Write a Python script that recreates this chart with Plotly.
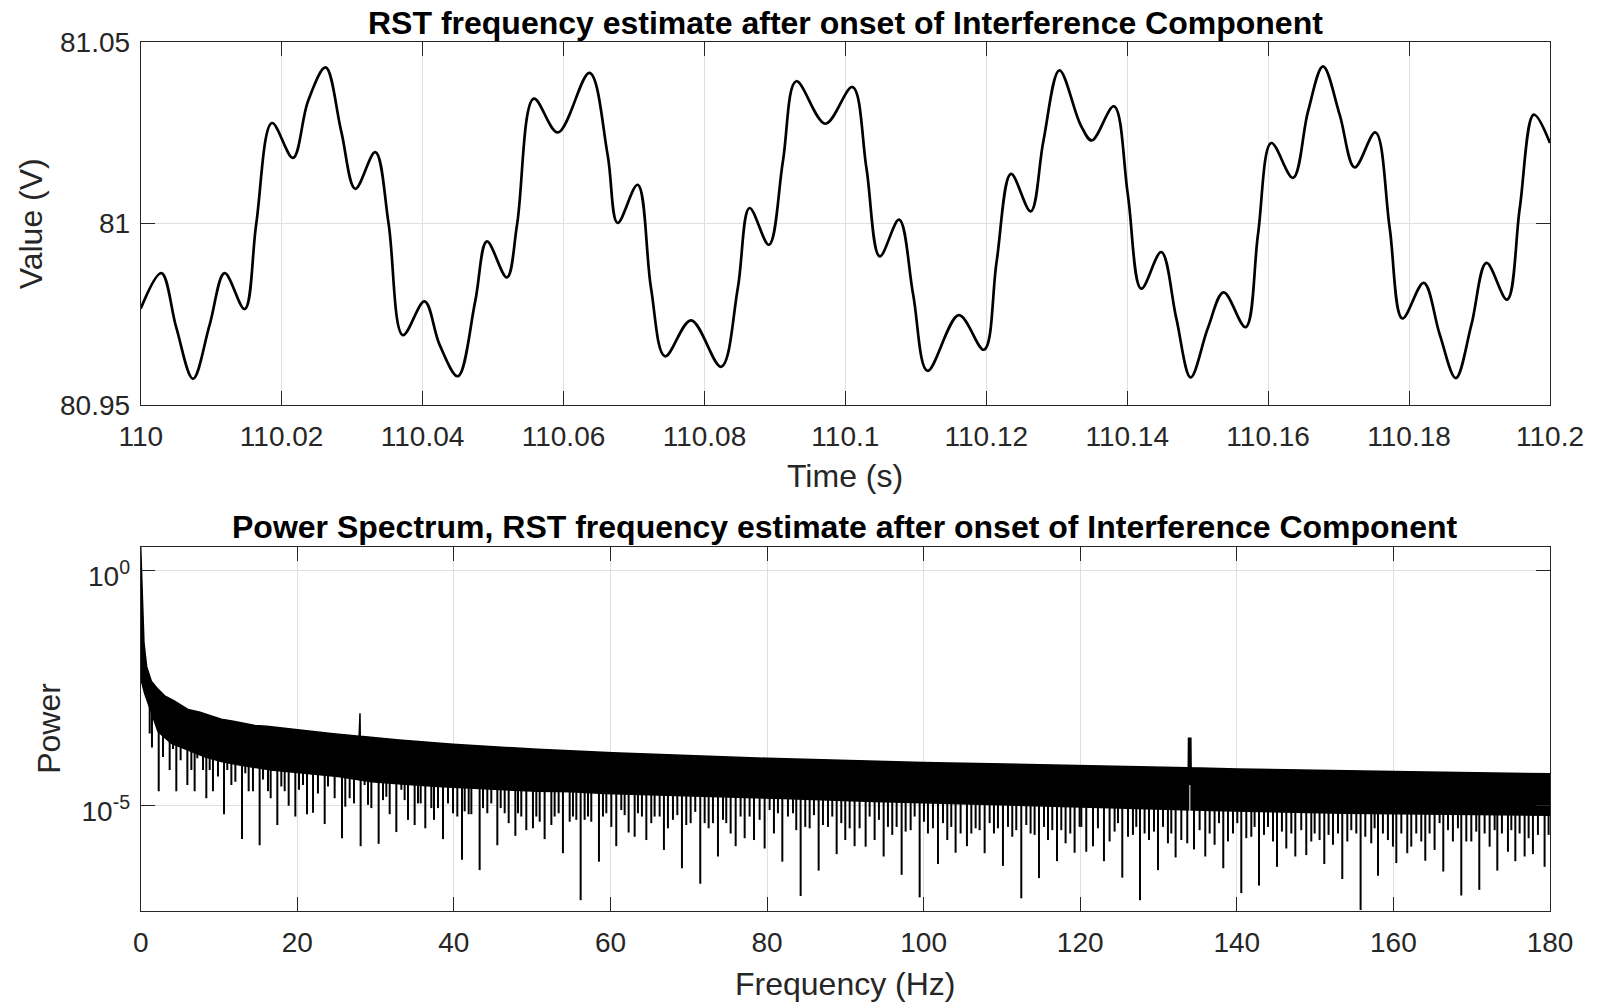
import numpy as np
import plotly.graph_objects as go

# ---------------- time-domain RST frequency estimate ----------------
time_s = [110.0, 110.00293, 110.00506, 110.00742, 110.00979, 110.01191, 110.01475,
          110.0164, 110.01863, 110.02161, 110.02374, 110.02624, 110.02846, 110.03045,
          110.03329, 110.03518, 110.03721, 110.04028, 110.04241, 110.04501, 110.04747,
          110.04913, 110.05196, 110.05343, 110.05579, 110.0592, 110.06369, 110.06626,
          110.06768, 110.07052, 110.07242, 110.07441, 110.0781, 110.08237, 110.08474,
          110.0864, 110.08915, 110.09114, 110.09303, 110.09716, 110.101, 110.10299,
          110.10488, 110.10763, 110.10962, 110.11166, 110.11611, 110.11967, 110.12147,
          110.12351, 110.1263, 110.1281, 110.13038, 110.13338, 110.13498, 110.13811,
          110.14009, 110.14199, 110.14483, 110.14696, 110.149, 110.15145, 110.15368,
          110.1568, 110.15856, 110.16045, 110.16353, 110.16566, 110.16779, 110.17015,
          110.17228, 110.17522, 110.17725, 110.17905, 110.18208, 110.18435, 110.18663,
          110.18885, 110.19098, 110.19391, 110.19571, 110.1977, 110.2]
value_v = [80.9766, 80.9864, 80.9713, 80.9573, 80.9722, 80.9864, 80.9765,
           81.0, 81.0277, 81.0181, 81.0337, 81.0430, 81.0254, 81.0096,
           81.0197, 81.0, 80.9693, 80.9786, 80.9667, 80.9580, 80.9786,
           80.9951, 80.9852, 81.0, 81.0344, 81.0251, 81.0415, 81.0190,
           81.0002, 81.0107, 80.9823, 80.9635, 80.9734, 80.9606, 80.9823,
           81.0043, 80.9942, 81.0172, 81.0392, 81.0275, 81.0376, 81.0153,
           80.9910, 81.0011, 80.9805, 80.9595, 80.9748, 80.9653, 80.9896,
           81.0137, 81.0034, 81.0227, 81.0422, 81.0272, 81.0229, 81.0323,
           81.0080, 80.9821, 80.9922, 80.9740, 80.9577, 80.9713, 80.9811,
           80.9715, 80.9970, 81.0222, 81.0126, 81.0309, 81.0433, 81.0300,
           81.0155, 81.0251, 80.9988, 80.9739, 80.9837, 80.9695, 80.9575,
           80.9722, 80.9892, 80.9791, 81.0043, 81.0300, 81.0222]

time_ticks = [110, 110.02, 110.04, 110.06, 110.08, 110.1, 110.12, 110.14, 110.16, 110.18, 110.2]
time_tick_text = ["110", "110.02", "110.04", "110.06", "110.08", "110.1",
                  "110.12", "110.14", "110.16", "110.18", "110.2"]
value_ticks = [80.95, 81.0, 81.05]
value_tick_text = ["80.95", "81", "81.05"]

# ---------------- power spectrum (power given as log10) ----------------
# upper edge of the spectral band, including the 28 Hz and 134 Hz lines
env_freq = [0, 0.25, 0.42, 0.76, 1.36, 2.04, 3.06, 4.17, 6.04, 7.57, 10.3, 11.83, 14.6,
            16.09, 20.0, 24.6, 27.9, 27.93, 28.01, 28.04, 33.0, 39.9, 50.7, 60.3, 80.0,
            99.95, 120.3, 133.8, 133.83, 134.13, 134.16, 140.1, 160.0, 180.0]
env_log10 = [0.50, -0.63, -1.55, -2.05, -2.36, -2.50, -2.67, -2.77, -2.96, -3.02, -3.17,
             -3.21, -3.30, -3.32, -3.40, -3.48, -3.53, -3.04, -3.04, -3.53, -3.61, -3.70,
             -3.81, -3.88, -4.00, -4.09, -4.16, -4.20, -3.575, -3.575, -4.20, -4.23,
             -4.28, -4.33]

# lower edge of the solid part of the band
floor_freq = [0, 0.51, 1.36, 2.21, 3.91, 6.04, 8.17, 10.3, 12.43, 16.68, 20.94, 25.2,
              29.46, 33.71, 37.97, 42.23, 46.49, 50.74, 55.0, 59.26, 68.19, 80.97, 93.74,
              106.51, 120.35, 136.74, 153.77, 180.0]
floor_log10 = [-2.30, -2.62, -3.04, -3.43, -3.68, -3.82, -3.97, -4.07, -4.14, -4.25, -4.32,
               -4.39, -4.50, -4.55, -4.60, -4.64, -4.67, -4.70, -4.71, -4.75, -4.80, -4.85,
               -4.92, -4.99, -5.04, -5.11, -5.17, -5.21]

# narrow notch inside the band just below the 134 Hz line
notch_freq = [134.0, 134.0]
notch_log10 = [-4.57, -5.24]

# spectral minima hanging below the band
tooth_freq = [
    1.15, 1.44, 2.30, 2.85, 3.70, 4.13, 4.55, 5.10, 5.96, 6.47, 6.89, 7.23, 7.96, 8.38,
    8.81, 9.23, 9.87, 10.64, 11.06, 11.58, 12.09, 12.94, 13.36, 13.79, 14.34, 15.19,
    15.62, 16.26, 16.60, 17.45, 17.96, 18.39, 18.90, 19.75, 20.22, 20.73, 21.24, 22.01,
    22.64, 23.50, 23.92, 24.77, 25.71, 26.13, 26.69, 27.24, 28.09, 28.60, 29.03, 29.46,
    30.39, 30.95, 31.37, 31.80, 32.65, 33.29, 33.71, 34.14, 34.99, 35.42, 35.76, 36.35,
    37.12, 37.46, 37.97, 38.61, 39.25, 39.89, 40.44, 41.04, 41.38, 41.89, 42.23, 43.29,
    43.72, 44.27, 44.78, 45.55, 45.98, 46.49, 47.00, 47.85, 48.19, 48.61, 49.25, 50.10,
    50.53, 50.96, 51.59, 52.45, 52.87, 53.38, 53.93, 54.79, 55.21, 55.64, 56.19, 56.70,
    57.13, 57.55, 58.53, 59.04, 59.47,
    60.11, 60.74, 61.38, 61.81, 62.32, 63.09, 63.51, 64.02, 64.58, 65.21, 65.64, 66.28,
    66.83, 67.34, 67.98, 68.54, 69.13, 69.68, 70.24, 70.83, 71.47, 72.03, 72.54, 73.09,
    73.73, 74.37, 74.79, 75.35, 75.99, 76.62, 77.14, 77.77, 78.33, 79.05, 79.69, 80.33,
    80.88, 81.39, 81.95, 82.67, 83.31, 83.73, 84.29, 84.88, 85.44, 85.99, 86.59, 87.14,
    87.78, 88.33, 88.89, 89.48, 89.99, 90.55, 91.18, 91.82, 92.59, 93.10, 93.74, 94.29,
    94.89, 95.44, 95.99, 96.55, 97.19, 97.70, 98.34, 98.85, 99.49, 100.04, 100.55,
    101.19, 101.83, 102.47, 103.02, 103.53, 104.08, 104.72, 105.53, 106.09, 106.64,
    107.15, 107.79, 108.43, 108.98, 109.49, 110.13, 110.77, 111.32, 111.83, 112.47,
    113.11, 113.66, 114.17, 114.73, 115.37, 115.88, 116.43, 117.03, 117.58, 118.13,
    118.73, 119.28, 119.92,
    120.14, 120.77, 121.63, 122.26, 123.03, 123.75, 124.39, 124.82, 125.37, 126.10,
    126.73, 127.16, 127.63, 128.22, 128.78, 129.42, 129.93, 130.57, 131.20, 131.63,
    132.18, 132.91, 133.67, 134.53, 135.25, 135.97, 136.53, 137.16, 137.72, 138.27,
    138.87, 139.51, 140.06, 140.57, 141.21, 141.85, 142.27, 142.83, 143.47, 143.98,
    144.62, 145.13, 145.76, 146.32, 146.96, 147.47, 148.23, 148.87, 149.51, 149.94,
    150.57, 151.17, 151.72, 152.28, 152.92, 153.47, 154.11, 154.62, 155.26, 155.81,
    156.41, 157.17, 157.60, 158.03, 158.66, 159.30, 159.94, 160.37, 161.01, 161.77,
    162.28, 162.92, 163.56, 164.07, 164.62, 165.26, 165.90, 166.37, 166.97, 167.60,
    168.24, 168.67, 169.31, 169.95, 170.58, 170.97, 171.65, 172.29, 172.93, 173.27,
    173.86, 174.63, 175.06, 175.57, 176.12, 176.76, 177.27, 177.82, 178.46, 179.31,
    179.82]
tooth_log10 = [
    -3.47, -3.77, -4.70, -3.97, -4.25, -3.80, -4.70, -4.04, -4.57, -4.25, -4.70, -4.00,
    -4.25, -4.85, -4.25, -4.70, -4.39, -5.19, -4.25, -4.57, -4.50, -5.72, -4.32, -4.70,
    -4.70, -5.85, -4.45, -4.70, -4.85, -5.42, -4.60, -4.70, -5.01, -5.24, -4.67, -4.57,
    -5.19, -5.16, -4.75, -5.40, -4.60, -4.85, -5.70, -5.03, -4.85, -4.96, -5.87, -4.57,
    -4.99, -5.06, -5.82, -4.89, -4.82, -5.19, -5.57, -4.67, -4.89, -5.31, -5.42, -4.96,
    -4.96, -5.49, -5.06, -5.31, -5.06, -5.72, -4.96, -5.17, -5.24, -6.16, -5.13, -5.19,
    -5.19, -6.38, -5.06, -5.17, -4.96, -5.85, -5.06, -5.17, -5.38, -5.65, -5.17, -5.24,
    -5.53, -5.49, -5.24, -5.35, -5.72, -5.42, -5.24, -5.17, -6.02, -5.35, -5.24, -5.31,
    -7.02, -5.31, -5.24, -5.35, -6.20, -5.24, -5.17,
    -5.46, -5.87, -5.10, -5.21, -5.58, -5.67, -5.17, -5.24, -5.74, -5.38, -5.24, -5.24,
    -5.95, -5.49, -5.31, -5.21, -6.34, -5.42, -5.38, -5.14, -6.67, -5.38, -5.49, -5.38,
    -6.09, -5.31, -5.38, -5.60, -5.87, -5.24, -5.70, -5.24, -5.74, -5.31, -5.92, -5.10,
    -5.60, -5.17, -6.20, -5.24, -5.17, -5.53, -6.93, -5.46, -5.49, -5.21, -6.39, -5.42,
    -5.46, -5.24, -6.04, -5.38, -5.74, -5.49, -5.87, -5.49, -5.88, -5.24, -5.74, -5.31,
    -6.09, -5.46, -5.63, -5.46, -6.48, -5.56, -5.53, -5.24, -6.96, -5.35, -5.60,
    -5.49, -6.25, -5.38, -5.74, -5.46, -6.01, -5.60, -5.87, -5.60, -5.49,
    -5.53, -6.02, -5.38, -5.60, -5.49, -6.29, -5.46, -5.67, -5.53, -6.98,
    -5.42, -5.60, -5.63, -6.55, -5.46, -5.74, -5.53, -6.19, -5.53, -5.81,
    -5.60, -6.01, -5.46,
    -5.46, -5.99, -5.87, -5.49, -6.19, -5.77, -5.56, -5.38, -6.54, -5.67,
    -5.63, -5.46, -7.02, -5.60, -5.74, -5.56, -6.38, -5.46, -5.81, -5.60,
    -6.11, -5.74, -5.81, -5.94, -5.53, -6.09, -5.60, -5.84, -5.38, -6.34,
    -5.77, -5.60, -5.38, -6.87, -5.70, -5.67, -5.46, -6.71, -5.63, -5.46,
    -5.77, -6.31, -5.56, -5.92, -5.60, -6.09, -5.53, -6.06, -5.77, -5.60,
    -5.74, -6.25, -5.63, -5.84, -5.60, -6.57, -5.77, -5.53, -5.60, -7.23,
    -5.67, -5.81, -5.49, -6.50, -5.60, -5.74, -5.88, -6.23, -5.60, -6.02,
    -5.88, -5.60, -5.77, -6.18, -5.60, -5.95, -5.38, -6.41, -5.53, -5.77,
    -5.49, -6.92, -5.77, -5.77, -5.56, -6.80, -5.60, -5.88, -5.53, -6.39,
    -5.60, -5.99, -5.53, -6.19, -5.60, -6.09, -5.70, -6.04, -5.63, -6.31,
    -5.63]

freq_ticks = [0, 20, 40, 60, 80, 100, 120, 140, 160, 180]
freq_tick_text = ["0", "20", "40", "60", "80", "100", "120", "140", "160", "180"]
power_ticks = [1.0, 1e-5]
power_tick_text = ["10<sup>0</sup>", "10<sup>-5</sup>"]

# ---------------- figure geometry ----------------
W, H = 1598, 1004
FONT = "Liberation Sans, Arial, Helvetica, sans-serif"
INK = "#262626"
X0, X1 = 140.7, 1550.0          # plot area left/right (px)
TOP_Y0, TOP_Y1 = 42.0, 405.3     # top panel top/bottom (px)
BOT_Y0, BOT_Y1 = 546.7, 911.0    # bottom panel top/bottom (px)


def fx(p):
    return p / W


def fy(p):
    return 1 - p / H


axis_common = dict(
    showline=True, linecolor=INK, linewidth=1, mirror="ticks",
    ticks="inside", ticklen=14, tickwidth=1, tickcolor=INK,
    showgrid=True, gridcolor="#dfdfdf", gridwidth=1, zeroline=False,
    automargin=False,
    tickfont=dict(family=FONT, size=28, color=INK),
)

fig = go.Figure()

# top panel: time trace
fig.add_trace(go.Scatter(
    x=time_s, y=value_v, mode="lines",
    line=dict(color="black", width=2.7, shape="spline", smoothing=1.0),
    xaxis="x", yaxis="y", hoverinfo="skip", showlegend=False,
))

# bottom panel: solid band of the spectrum
env_p = [10 ** v for v in env_log10]
floor_p = [10 ** v for v in floor_log10]
fig.add_trace(go.Scatter(
    x=env_freq + floor_freq[::-1], y=env_p + floor_p[::-1],
    mode="lines", fill="toself", fillcolor="black",
    line=dict(color="black", width=1.5),
    xaxis="x2", yaxis="y2", hoverinfo="skip", showlegend=False,
))

# spectral minima below the band
floor_arr = np.array(floor_freq)
tx, ty = [], []
for f, lv in zip(tooth_freq, tooth_log10):
    k = int(np.searchsorted(floor_arr, f, side="right")) - 1
    tx += [f, f, None]
    ty += [10 ** floor_log10[k], 10 ** lv, None]
fig.add_trace(go.Scatter(
    x=tx, y=ty, mode="lines", line=dict(color="black", width=2),
    xaxis="x2", yaxis="y2", hoverinfo="skip", showlegend=False,
))

# thin gap in the band under the 134 Hz line
fig.add_trace(go.Scatter(
    x=notch_freq, y=[10 ** v for v in notch_log10], mode="lines",
    line=dict(color="white", width=1),
    xaxis="x2", yaxis="y2", hoverinfo="skip", showlegend=False,
))

fig.update_layout(
    width=W, height=H,
    margin=dict(l=0, r=0, t=0, b=0, pad=0, autoexpand=False),
    paper_bgcolor="white", plot_bgcolor="white",
    showlegend=False,
    xaxis=dict(axis_common, domain=[fx(X0), fx(X1)], range=[110, 110.2],
               tickvals=time_ticks, ticktext=time_tick_text, anchor="y",
               ticklabelstandoff=6),
    yaxis=dict(axis_common, domain=[fy(TOP_Y1), fy(TOP_Y0)], range=[80.95, 81.05],
               tickvals=value_ticks, ticktext=value_tick_text, anchor="x",
               ticklabelstandoff=4),
    xaxis2=dict(axis_common, domain=[fx(X0), fx(X1)], range=[0, 180],
                tickvals=freq_ticks, ticktext=freq_tick_text, anchor="y2",
                ticklabelstandoff=6),
    yaxis2=dict(axis_common, domain=[fy(BOT_Y1), fy(BOT_Y0)], type="log",
                range=[-7.25, 0.503], tickvals=power_ticks, ticktext=power_tick_text,
                anchor="x2", ticklabelstandoff=4, ticklabelshift=6),
)

title_font = dict(family=FONT, size=32, color="black")
label_font = dict(family=FONT, size=32, color=INK)
cx = fx((X0 + X1) / 2)
annotations = [
    dict(text="<b>RST frequency estimate after onset of Interference Component</b>",
         x=cx, y=fy(23.2), font=title_font),
    dict(text="<b>Power Spectrum, RST frequency estimate after onset of Interference Component</b>",
         x=cx, y=fy(527.0), font=title_font),
    dict(text="Time (s)", x=cx, y=fy(476), font=label_font),
    dict(text="Frequency (Hz)", x=cx, y=fy(983.5), font=label_font),
    dict(text="Value (V)", x=fx(30.6), y=fy((TOP_Y0 + TOP_Y1) / 2), font=label_font,
         textangle=-90),
    dict(text="Power", x=fx(49), y=fy((BOT_Y0 + BOT_Y1) / 2), font=label_font,
         textangle=-90),
]
for a in annotations:
    a.update(xref="paper", yref="paper", xanchor="center", yanchor="middle",
             showarrow=False)
fig.update_layout(annotations=annotations)

fig.write_html("out.html")
